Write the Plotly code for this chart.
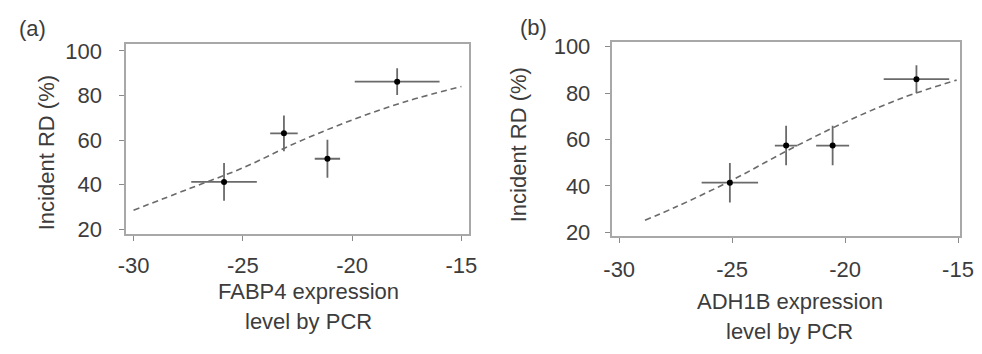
import plotly.graph_objects as go

# ---- data ----
a_x = [-25.86, -23.12, -21.13, -17.94]
a_y = [41.2, 63.0, 51.6, 86.2]
a_xerr = [1.5, 0.63, 0.58, 1.94]
a_yerr = [8.5, 8.0, 8.5, 6.0]
a_fit_x = [-30, -27.5, -25, -22.5, -20, -17.5, -15]
a_fit_y = [28.5, 38.0, 47.5, 59.0, 69.0, 77.4, 84.0]

b_x = [-25.1, -22.61, -20.55, -16.84]
b_y = [41.4, 57.4, 57.4, 86.0]
b_xerr = [1.25, 0.5, 0.73, 1.45]
b_yerr = [8.5, 8.5, 8.5, 6.0]
b_fit_x = [-28.86, -27.5, -25, -22.5, -20, -17.5, -15.06]
b_fit_y = [25.2, 30.9, 42.5, 55.5, 67.5, 77.8, 85.6]

x_ticks = [-30, -25, -20, -15]
x_tick_text = ["-30", "-25", "-20", "-15"]
y_ticks = [20, 40, 60, 80, 100]

W, H = 982, 354
FONT = "Liberation Sans, Arial, sans-serif"
TXT = "#3c3c3c"
ERR = "#6a6a6a"
FIT = "#6a6a6a"

fig = go.Figure()

def add_panel(xs, ys, xe, ye, fx, fy, xa, ya):
    fig.add_trace(go.Scatter(x=fx, y=fy, mode="lines",
                             line=dict(color=FIT, width=1.6, dash="6px,4px", shape="spline"),
                             xaxis=xa, yaxis=ya, showlegend=False, hoverinfo="skip"))
    fig.add_trace(go.Scatter(x=xs, y=ys, mode="markers",
                             marker=dict(color="black", size=6),
                             error_x=dict(type="data", array=xe, color=ERR, thickness=1.8, width=0),
                             error_y=dict(type="data", array=ye, color=ERR, thickness=1.8, width=0),
                             xaxis=xa, yaxis=ya, showlegend=False))

add_panel(a_x, a_y, a_xerr, a_yerr, a_fit_x, a_fit_y, "x", "y")
add_panel(b_x, b_y, b_xerr, b_yerr, b_fit_x, b_fit_y, "x2", "y2")

def xax(dom, rng, anchor, standoff):
    return dict(domain=dom, range=rng, anchor=anchor, tickvals=x_ticks, ticktext=x_tick_text,
                ticks="outside", ticklen=5,
                tickcolor="#8a8a8a", showline=True, mirror=True, linecolor="#a8a8a8", linewidth=1.5,
                showgrid=False, zeroline=False, tickfont=dict(family=FONT, size=22, color=TXT),
                ticklabelstandoff=standoff)

def yax(dom, rng, anchor, standoff):
    return dict(domain=dom, range=rng, anchor=anchor, tickvals=y_ticks, ticks="outside", ticklen=5,
                tickcolor="#8a8a8a", showline=True, mirror=True, linecolor="#a8a8a8", linewidth=1.5,
                showgrid=False, zeroline=False, tickfont=dict(family=FONT, size=22, color=TXT),
                ticklabelstandoff=standoff)

def px(xp):
    return xp / W

def py(yp):
    return 1 - yp / H

annotations = []
def ann(text, x, y, angle=0):
    annotations.append(dict(text=text, x=px(x), y=py(y), xref="paper", yref="paper", showarrow=False,
                            xanchor="center", yanchor="middle", textangle=angle,
                            font=dict(family=FONT, size=22, color=TXT)))

ann("(a)", 25, 22)
ann("(b)", 537, 21)
ann("Incident RD (%)", 39, 153, -90)
ann("Incident RD (%)", 522, 144, -90)
ann("FABP4 expression", 307, 298)
ann("level by PCR", 307, 329)
ann("ADH1B expression", 799, 308)
ann("level by PCR", 799, 340)

fig.update_layout(
    width=W, height=H, margin=dict(l=0, r=0, t=0, b=0),
    paper_bgcolor="white", plot_bgcolor="white",
    xaxis=xax([px(120.7), px(470.7)], [-30.34, -14.67], "y", 6),
    yaxis=yax([py(238), py(39)], [17.7, 103], "x", 13),
    xaxis2=xax([px(616.7), px(973.3)], [-30.34, -14.89], "y2", 8),
    yaxis2=yax([py(240), py(36.5)], [18.35, 102.1], "x2", 10),
    annotations=annotations,
)

post = ("document.documentElement.style.margin='0';document.body.style.margin='0';"
        "document.body.style.padding='0';document.body.style.overflow='hidden';")

fig.write_html("out.html", post_script=post)
